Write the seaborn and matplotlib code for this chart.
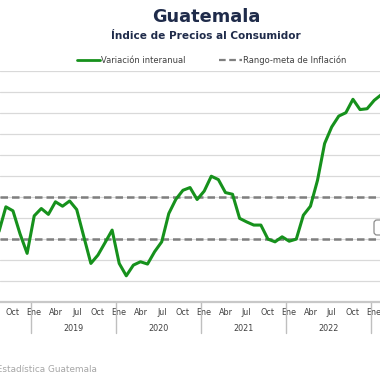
import numpy as np
import pandas as pd
import seaborn as sns
import matplotlib.pyplot as plt
import matplotlib.transforms as mtransforms
from matplotlib.patches import FancyBboxPatch
from matplotlib.lines import Line2D

# Monthly year-on-year CPI variation, Aug 2018 .. Feb 2023
inflacion = [3.33, 4.54, 4.35, 3.25, 2.32,
             4.11, 4.46, 4.18, 4.78, 4.57, 4.82, 4.41, 3.12, 1.84, 2.24, 2.83, 3.43,
             1.84, 1.25, 1.76, 1.92, 1.81, 2.40, 2.87, 4.22, 4.90, 5.33, 5.46, 4.89,
             5.29, 6.00, 5.84, 5.22, 5.14, 3.99, 3.82, 3.67, 3.67, 3.00, 2.87, 3.11,
             2.90, 3.00, 4.14, 4.57, 5.81, 7.56, 8.35, 8.87, 9.03, 9.67, 9.18, 9.22,
             9.62, 9.89]
meta_inf = 3.0
meta_sup = 5.0
years = [2018, 2019, 2020, 2021, 2022, 2023]
year_labels = [2019, 2020, 2021, 2022]
month_labels = ['Ene', 'Abr', 'Jul', 'Oct']

# month index: 0 = Ene 2019
idx = np.arange(-5, -5 + len(inflacion))
df = pd.DataFrame({'mes': idx, 'valor': inflacion})

sns.set_style('white')
plt.rcParams['font.family'] = ['DejaVu Sans']

fig = plt.figure(figsize=(3.8, 3.8), dpi=100)
ax = fig.add_axes([0, 78 / 380, 1, 231 / 380])

ax.axhline(meta_sup, color='#7f7f7f', lw=1.8, ls=(0, (3, 1.6)), zorder=2)
ax.axhline(meta_inf, color='#7f7f7f', lw=1.8, ls=(0, (3, 1.6)), zorder=2)
sns.lineplot(data=df, x='mes', y='valor', color='#16911c', lw=2.2, ax=ax, zorder=3)
ax.set_xlabel('')
ax.set_ylabel('')

ax.set_yticks(range(0, 12))
ax.yaxis.grid(True, color='#d9d9d9', lw=0.9)
ax.set_yticklabels([])
ax.tick_params(axis='y', length=0)
for s in ['top', 'left', 'right']:
    ax.spines[s].set_visible(False)
ax.spines['bottom'].set_color('#c8c8c8')
ax.spines['bottom'].set_linewidth(1.6)

# month tick labels
ticks, labels = [], []
for y in years:
    for m, lab in enumerate(month_labels):
        ticks.append((y - 2019) * 12 + m * 3)
        labels.append(lab)
ax.set_xticks(ticks)
ax.set_xticklabels(labels, fontsize=5.8, color='#404040')
ax.tick_params(axis='x', length=0, pad=4)

trans = mtransforms.blended_transform_factory(ax.transData, ax.transAxes)
for y in years:
    start = (y - 2019) * 12 - 0.5
    ax.plot([start, start], [0, -0.134], color='#bfbfbf', lw=1, transform=trans, clip_on=False)
for y in year_labels:
    start = (y - 2019) * 12 - 0.5
    ax.text(start + 6, -0.113, str(y), transform=trans, ha='center', va='center',
            fontsize=5.8, color='#404040')
ax.set_xlim(-4.83, 48.82)
ax.set_ylim(0, 11.02)

fig.text(206 / 380, 1 - 17 / 380, 'Guatemala', ha='center', va='center',
         fontsize=12.8, fontweight='bold', color='#1f2b4a')
fig.text(206 / 380, 1 - 36 / 380, 'Índice de Precios al Consumidor', ha='center', va='center',
         fontsize=7.6, fontweight='bold', color='#1f2b4a')

handles = [Line2D([], [], color='#16911c', lw=2),
           Line2D([], [], color='#7f7f7f', lw=1.6, ls=(0, (3, 1.6)))]
fig.legend(handles, ['Variación interanual', 'Rango-meta de Inflación'], ncol=2,
           loc='center', bbox_to_anchor=(212 / 380, 1 - 60 / 380), frameon=False,
           fontsize=6, handlelength=2.7, handletextpad=0.2, columnspacing=4,
           labelcolor='#404040')

fig.text(97 / 380, 1 - 370 / 380, 'Fuente: Instituto Nacional de Estadística Guatemala',
         ha='right', va='center', fontsize=6.4, color='#a6a6a6')

box = FancyBboxPatch((374 / 380, 1 - 235 / 380), 20 / 380, 15 / 380,
                     boxstyle='round,pad=0,rounding_size=0.008', transform=fig.transFigure,
                     facecolor='white', edgecolor='#8c8c8c', lw=0.9)
fig.patches.append(box)

fig.savefig('out.png', dpi=100)
